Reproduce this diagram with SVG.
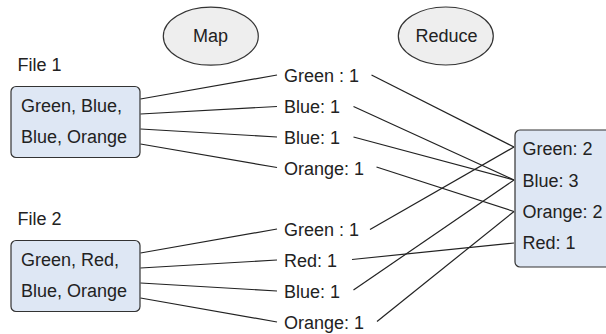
<svg xmlns="http://www.w3.org/2000/svg" width="606" height="334" viewBox="0 0 606 334">
<style>
text{font-family:"Liberation Sans",Arial,sans-serif;font-size:18px;fill:#222}
.mid{text-anchor:middle}
.ell{fill:#eeeeee;stroke:#333;stroke-width:1.2}
.box{fill:#dee7f4;stroke:#333;stroke-width:1.2}
.conn line{stroke:#222;stroke-width:1.2}
</style>
<rect width="606" height="334" fill="#fff"/>
<g id="map"><ellipse class="ell" cx="210.8" cy="36.2" rx="47.5" ry="29"/><text class="mid" x="210.5" y="41.5">Map</text></g>
<g id="reduce"><ellipse class="ell" cx="445.8" cy="36" rx="47.5" ry="29"/><text class="mid" x="446.5" y="41.5">Reduce</text></g>
<g id="file1"><text x="17.5" y="71">File 1</text><rect class="box" x="11" y="86.5" width="129" height="71" rx="5"/><text x="21" y="111.5">Green, Blue,</text><text x="21" y="143">Blue, Orange</text></g>
<g id="file2"><text x="17.5" y="225">File 2</text><rect class="box" x="11" y="240.5" width="129" height="71" rx="5"/><text x="21" y="265.5">Green, Red,</text><text x="21" y="297">Blue, Orange</text></g>
<g id="result"><rect class="box" x="515" y="130" width="100" height="137" rx="5"/><text x="522.5" y="155">Green: 2</text><text x="522.5" y="186.5">Blue: 3</text><text x="522.5" y="217.5">Orange: 2</text><text x="522.5" y="248.5">Red: 1</text></g>
<g id="k1"><text x="284" y="81.5">Green : 1</text></g>
<g id="k2"><text x="284" y="112.5">Blue: 1</text></g>
<g id="k3"><text x="284" y="144">Blue: 1</text></g>
<g id="k4"><text x="284" y="175">Orange: 1</text></g>
<g id="k5"><text x="284" y="235.5">Green : 1</text></g>
<g id="k6"><text x="284" y="266.5">Red: 1</text></g>
<g id="k7"><text x="284" y="298">Blue: 1</text></g>
<g id="k8"><text x="284" y="329">Orange: 1</text></g>
<g class="conn" id="connectors">
<line x1="140.5" y1="99" x2="277" y2="75"/>
<line x1="140.5" y1="114" x2="277" y2="106.5"/>
<line x1="140.5" y1="129" x2="277" y2="137"/>
<line x1="140.5" y1="144" x2="277" y2="167.5"/>
<line x1="140.5" y1="253" x2="277" y2="229"/>
<line x1="140.5" y1="268" x2="277" y2="260"/>
<line x1="140.5" y1="283" x2="277" y2="291"/>
<line x1="140.5" y1="298" x2="277" y2="322"/>
<line x1="371.5" y1="75" x2="514" y2="147"/>
<line x1="353.5" y1="106.5" x2="514" y2="180"/>
<line x1="353.5" y1="137" x2="514" y2="180"/>
<line x1="376.5" y1="167" x2="514" y2="211.5"/>
<line x1="370" y1="229.5" x2="514" y2="147"/>
<line x1="352" y1="259.5" x2="514" y2="243"/>
<line x1="353.5" y1="290" x2="514" y2="180"/>
<line x1="377" y1="321.5" x2="514" y2="211.5"/>
</g>
</svg>
